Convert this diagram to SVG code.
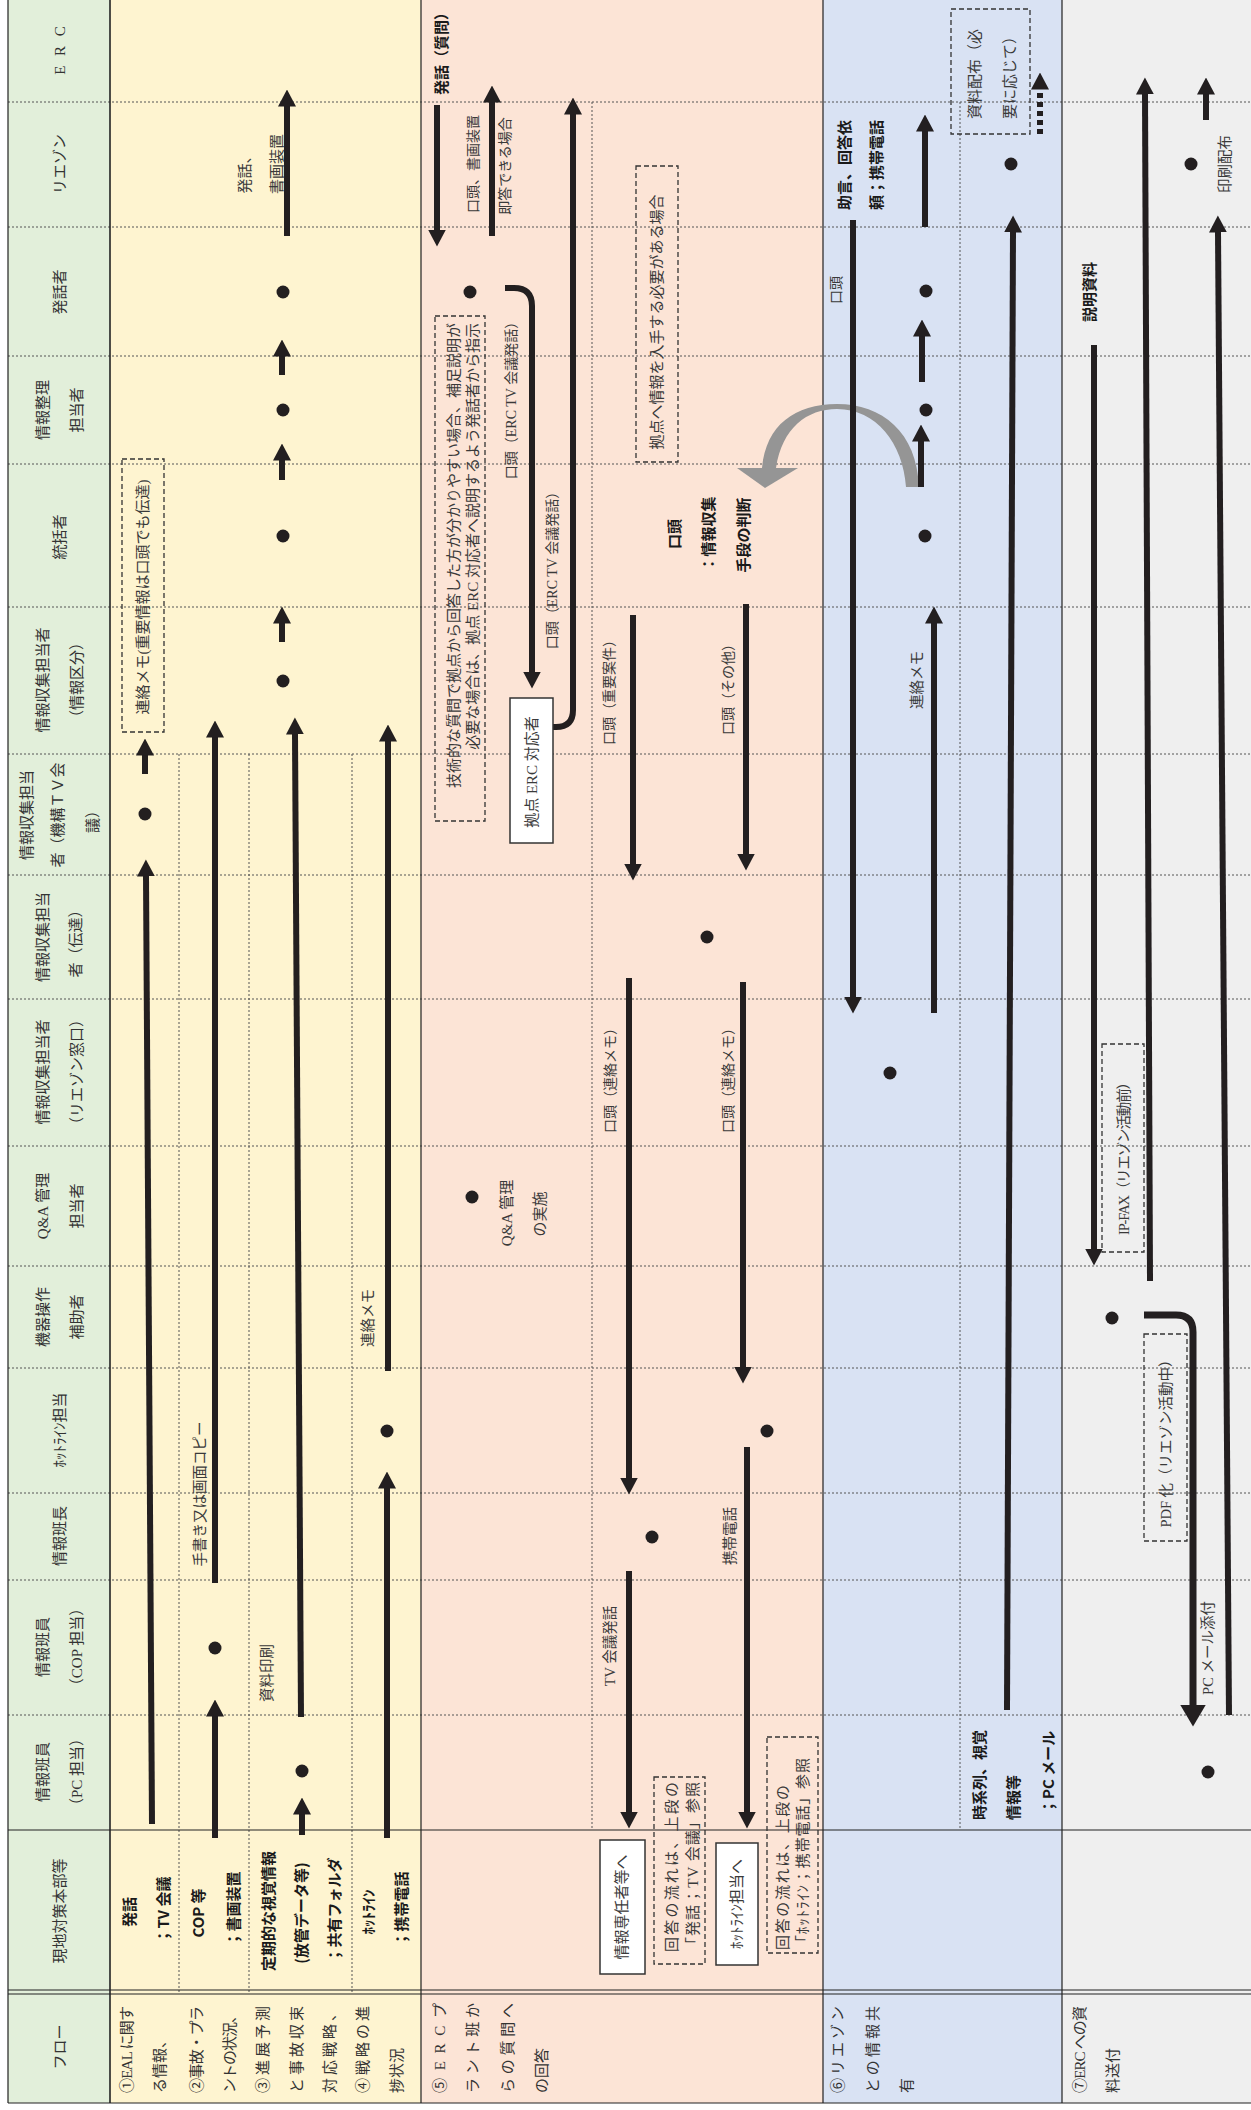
<svg xmlns="http://www.w3.org/2000/svg" width="1251" height="2110" viewBox="0 0 1251 2110">
<defs>
<style>
text{dominant-baseline:central;text-anchor:middle}
.h{font-family:"Liberation Serif","Noto Sans CJK JP",serif;font-size:15px;fill:#333}
.n{font-family:"Liberation Serif","Noto Sans CJK JP",serif;font-size:15px;fill:#3a3a3a}
.l{font-family:"Liberation Serif","Noto Sans CJK JP",serif;font-size:14.5px;fill:#3a3a3a}
.m{font-family:"Liberation Serif","Noto Sans CJK JP",serif;font-size:14px;fill:#3a3a3a}
.b{font-family:"Noto Sans CJK JP","Liberation Sans",sans-serif;font-size:15px;font-weight:bold;fill:#1a1a1a}
.s{text-anchor:start}
.e{text-anchor:end}
.dl{stroke:#555;stroke-width:1;stroke-dasharray:2 2;fill:none}
.sl{stroke:#222;stroke-width:1.2;fill:none}
.a{stroke:#231f20;stroke-width:6;fill:none;marker-end:url(#ah)}
.a2{stroke:#231f20;stroke-width:7;fill:none;marker-end:url(#ah2)}
.dot{fill:#231f20}
.db{fill:none;stroke:#333;stroke-width:1.3;stroke-dasharray:5 3}
.wb{fill:#fff;stroke:#333;stroke-width:1.5}
</style>
<marker id="ah" markerUnits="userSpaceOnUse" markerWidth="17" markerHeight="18" viewBox="0 0 17 18" refX="0.5" refY="9" orient="auto"><path d="M0,0L17,9L0,18z" fill="#231f20"/></marker>
<marker id="ah2" markerUnits="userSpaceOnUse" markerWidth="22" markerHeight="26" viewBox="0 0 22 26" refX="0.5" refY="13" orient="auto"><path d="M0,0L22,13L0,26z" fill="#231f20"/></marker>
</defs>

<g id="background">
<rect x="8" y="0" width="102" height="2103" fill="#e2efda"/>
<rect x="110" y="0" width="311" height="2103" fill="#fef4d0"/>
<rect x="421" y="0" width="402" height="2103" fill="#fce4d6"/>
<rect x="823" y="0" width="239" height="2103" fill="#d9e2f3"/>
<rect x="1062" y="0" width="189" height="2103" fill="#efefef"/>
</g>

<g id="grid">
<path class="dl" d="M8,102H1251M8,227H1251M8,356H1251M8,464H1251M8,607H1251M8,754H1251M8,875H1251M8,999H1251M8,1146H1251M8,1266H1251M8,1368H1251M8,1493H1251M8,1580H1251M8,1715H1251"/>
<path class="dl" d="M179,754V1992M249,754V1992M352,754V1992M592,102V1830M960,102V1830"/>
<path class="sl" d="M8,0V2103M421,0V2103M823,0V2103M1062,0V2103M8,1830H1251M8,1990H1251M8,1994H1251M8,2103H1251"/>
<path d="M110,0V2103" stroke="#222" stroke-width="1.6"/>
</g>

<g id="header">
<g id="h-erc"><text class="h" letter-spacing="3" transform="translate(60 49) rotate(-90)">E R C</text></g>
<g id="h-liaison"><text class="h" transform="translate(60 164) rotate(-90)">リエゾン</text></g>
<g id="h-speaker"><text class="h" transform="translate(60 292) rotate(-90)">発話者</text></g>
<g id="h-seiri"><text class="h" transform="translate(43 410) rotate(-90)">情報整理</text><text class="h" transform="translate(77 410) rotate(-90)">担当者</text></g>
<g id="h-toukatsu"><text class="h" transform="translate(60 537) rotate(-90)">統括者</text></g>
<g id="h-kubun"><text class="h" transform="translate(43 680) rotate(-90)">情報収集担当者</text><text class="h" transform="translate(77 680) rotate(-90)">（情報区分）</text></g>
<g id="h-tv"><text class="h" transform="translate(27 815) rotate(-90)">情報収集担当</text><text class="h" transform="translate(58 815) rotate(-90)">者（機構ＴＶ会</text><text class="h" transform="translate(93 818) rotate(-90)">議）</text></g>
<g id="h-dentatsu"><text class="h" transform="translate(43 937) rotate(-90)">情報収集担当</text><text class="h" transform="translate(76 940) rotate(-90)">者（伝達）</text></g>
<g id="h-madoguchi"><text class="h" transform="translate(43 1072) rotate(-90)">情報収集担当者</text><text class="h" transform="translate(77 1072) rotate(-90)">（リエゾン窓口）</text></g>
<g id="h-qa"><text class="h" transform="translate(43 1206) rotate(-90)">Q&amp;A 管理</text><text class="h" transform="translate(77 1206) rotate(-90)">担当者</text></g>
<g id="h-kiki"><text class="h" transform="translate(43 1317) rotate(-90)">機器操作</text><text class="h" transform="translate(77 1317) rotate(-90)">補助者</text></g>
<g id="h-hotline"><text class="h" transform="translate(60 1430) rotate(-90)">ﾎｯﾄﾗｲﾝ担当</text></g>
<g id="h-hanchou"><text class="h" transform="translate(60 1536) rotate(-90)">情報班長</text></g>
<g id="h-cop"><text class="h" transform="translate(43 1647) rotate(-90)">情報班員</text><text class="h" transform="translate(77 1647) rotate(-90)">（COP 担当）</text></g>
<g id="h-pc"><text class="h" transform="translate(43 1772) rotate(-90)">情報班員</text><text class="h" transform="translate(77 1772) rotate(-90)">（PC 担当）</text></g>
<g id="h-genchi"><text class="h" transform="translate(60 1911) rotate(-90)">現地対策本部等</text></g>
<g id="h-flow"><text class="h" transform="translate(60 2047) rotate(-90)">フロー</text></g>
</g>

<g id="flow-labels">
<text class="h s" textLength="87" lengthAdjust="spacing" transform="translate(127 2093) rotate(-90)">①EAL に関す</text>
<text class="h s" transform="translate(160 2093) rotate(-90)">る情報、</text>
<text class="h s" textLength="87" lengthAdjust="spacing" transform="translate(197 2093) rotate(-90)">②事故・プラ</text>
<text class="h s" textLength="85" lengthAdjust="spacing" transform="translate(230 2093) rotate(-90)">ントの状況、</text>
<text class="h s" textLength="87" lengthAdjust="spacing" transform="translate(263 2093) rotate(-90)">③進展予測</text>
<text class="h s" textLength="87" lengthAdjust="spacing" transform="translate(297 2093) rotate(-90)">と事故収束</text>
<text class="h s" textLength="87" lengthAdjust="spacing" transform="translate(330 2093) rotate(-90)">対応戦略、</text>
<text class="h s" textLength="87" lengthAdjust="spacing" transform="translate(363 2093) rotate(-90)">④戦略の進</text>
<text class="h s" transform="translate(397 2093) rotate(-90)">捗状況</text>
<text class="h s" textLength="90" lengthAdjust="spacing" transform="translate(440 2093) rotate(-90)">⑤ERCプ</text>
<text class="h s" textLength="90" lengthAdjust="spacing" transform="translate(473 2093) rotate(-90)">ラント班か</text>
<text class="h s" textLength="90" lengthAdjust="spacing" transform="translate(508 2093) rotate(-90)">らの質問へ</text>
<text class="h s" transform="translate(542 2093) rotate(-90)">の回答</text>
<text class="h s" textLength="87" lengthAdjust="spacing" transform="translate(838 2093) rotate(-90)">⑥リエゾン</text>
<text class="h s" textLength="87" lengthAdjust="spacing" transform="translate(873 2093) rotate(-90)">との情報共</text>
<text class="h s" transform="translate(907 2093) rotate(-90)">有</text>
<text class="h s" textLength="87" lengthAdjust="spacing" transform="translate(1080 2093) rotate(-90)">⑦ERC への資</text>
<text class="h s" transform="translate(1113 2093) rotate(-90)">料送付</text>
</g>

<g id="genchi-labels">
<text class="b" transform="translate(128 1912) rotate(-90)">発話</text>
<text class="b" transform="translate(162 1910) rotate(-90)">；TV 会議</text>
<text class="b" transform="translate(197 1913) rotate(-90)">COP 等</text>
<text class="b" transform="translate(232 1909) rotate(-90)">；書画装置</text>
<text class="b" transform="translate(267 1911) rotate(-90)">定期的な視覚情報</text>
<text class="b" transform="translate(300 1913) rotate(-90)">(放管データ等)</text>
<text class="b" transform="translate(333 1910) rotate(-90)">；共有フォルダ</text>
<text class="b" transform="translate(367 1912) rotate(-90)">ﾎｯﾄﾗｲﾝ</text>
<text class="b" transform="translate(400 1909) rotate(-90)">；携帯電話</text>
</g>

<g id="connectors">
<path class="a" d="M287,236V106"/>
<path class="a" d="M282,375V356"/>
<path class="a" d="M282,480V460"/>
<path class="a" d="M282,642V623"/>
<path class="a" d="M145,774V755"/>
<path class="a" d="M152,1824L146,876"/>
<path class="a" d="M215,1583V737"/>
<path class="a" d="M215,1838V1716"/>
<path class="a" d="M301,1717L295,734"/>
<path class="a" d="M302,1835V1814"/>
<path class="a" d="M388,1371V741"/>
<path class="a" d="M387,1838V1488"/>
<path class="a" d="M437,105V230"/>
<path class="a" d="M492,236V102"/>
<path class="a" d="M505,288H514Q532,288 532,306V672"/>
<path class="a" d="M553,727H556Q573,727 573,710V114"/>
<path class="a" d="M633,615V864"/>
<path class="a" d="M746,604V854"/>
<path class="a" d="M629,978V1478"/>
<path class="a" d="M743,982V1367"/>
<path class="a" d="M629,1571V1812"/>
<path class="a" d="M747,1447V1812"/>
<path d="M762,468C766,425 795,404 837,404C882,404 917,432 919,487L906,487C903,443 876,409 837,409C807,409 782,428 776,468Z" fill="#959595"/>
<path d="M737,468L798,468L765,488Z" fill="#959595"/>
<path class="a" d="M853,220V997"/>
<path class="a" d="M925,227V131"/>
<path class="a" d="M922,382V336"/>
<path class="a" d="M921,487V441"/>
<path class="a" d="M934,1013V623"/>
<path class="a" d="M1007,1710L1013,232"/>
<path d="M1040,134V89" stroke="#231f20" stroke-width="6" stroke-dasharray="5 4" fill="none" marker-end="url(#ah)"/>
<path class="a" d="M1094,345V1249"/>
<path class="a" d="M1150,1281L1145,94"/>
<path class="a2" d="M1144,1315H1176Q1193,1315 1193,1332V1705"/>
<path class="a" d="M1229,1715L1218,232"/>
<path class="a" d="M1206,120V94"/>
</g>

<g id="dots">
<circle class="dot" cx="283" cy="292" r="6.5"/>
<circle class="dot" cx="283" cy="410" r="6.5"/>
<circle class="dot" cx="283" cy="536" r="6.5"/>
<circle class="dot" cx="283" cy="681" r="6.5"/>
<circle class="dot" cx="145" cy="814" r="6.5"/>
<circle class="dot" cx="215" cy="1648" r="6.5"/>
<circle class="dot" cx="302" cy="1771" r="6.5"/>
<circle class="dot" cx="387" cy="1431" r="6.5"/>
<circle class="dot" cx="470" cy="292" r="6.5"/>
<circle class="dot" cx="707" cy="937" r="6.5"/>
<circle class="dot" cx="472" cy="1197" r="6.5"/>
<circle class="dot" cx="767" cy="1431" r="6.5"/>
<circle class="dot" cx="652" cy="1537" r="6.5"/>
<circle class="dot" cx="926" cy="291" r="6.5"/>
<circle class="dot" cx="926" cy="410" r="6.5"/>
<circle class="dot" cx="925" cy="536" r="6.5"/>
<circle class="dot" cx="890" cy="1073" r="6.5"/>
<circle class="dot" cx="1011" cy="164" r="6.5"/>
<circle class="dot" cx="1191" cy="164" r="6.5"/>
<circle class="dot" cx="1112" cy="1318" r="6.5"/>
<circle class="dot" cx="1208" cy="1772" r="6.5"/>
</g>

<g id="note-renraku">
<rect class="db" x="122" y="459" width="42" height="273"/>
<text class="n" transform="translate(143 597) rotate(-90)">連絡メモ(重要情報は口頭でも伝達)</text>
</g>
<g id="note-gijutsu">
<rect class="db" x="435" y="316" width="50" height="505"/>
<text class="n e" transform="translate(454 323) rotate(-90)">技術的な質問で拠点から回答した方が分かりやすい場合、補足説明が</text>
<text class="n e" transform="translate(473 323) rotate(-90)">必要な場合は、拠点 ERC 対応者へ説明するよう発話者から指示</text>
</g>
<g id="box-kyoten">
<rect class="wb" x="510" y="698" width="43" height="145"/>
<text class="n" transform="translate(532 772) rotate(-90)">拠点 ERC 対応者</text>
</g>
<g id="note-kyoten">
<rect class="db" x="636" y="166" width="42" height="296"/>
<text class="n" transform="translate(657 322) rotate(-90)">拠点へ情報を入手する必要がある場合</text>
</g>
<g id="box-senin">
<rect class="wb" x="600" y="1840" width="45" height="134"/>
<text class="n" transform="translate(622 1907) rotate(-90)">情報専任者等へ</text>
</g>
<g id="note-kaitou1">
<rect class="db" x="654" y="1777" width="51" height="187"/>
<text class="n s" textLength="170" lengthAdjust="spacing" transform="translate(672 1952) rotate(-90)">回答の流れは、上段の</text>
<text class="n s" textLength="170" lengthAdjust="spacing" transform="translate(693 1952) rotate(-90)">「発話；TV 会議」参照</text>
</g>
<g id="box-hotline">
<rect class="wb" x="716" y="1843" width="42" height="122"/>
<text class="n" transform="translate(737 1904) rotate(-90)">ﾎｯﾄﾗｲﾝ担当へ</text>
</g>
<g id="note-kaitou2">
<rect class="db" x="767" y="1737" width="51" height="216"/>
<text class="n s" textLength="165" lengthAdjust="spacing" transform="translate(783 1950) rotate(-90)">回答の流れは、上段の</text>
<text class="n s" textLength="192" lengthAdjust="spacing" transform="translate(803 1950) rotate(-90)">「ﾎｯﾄﾗｲﾝ；携帯電話」参照</text>
</g>
<g id="note-shiryou">
<rect class="db" x="951" y="9" width="79" height="125"/>
<text class="n s" transform="translate(975 119) rotate(-90)">資料配布（必</text>
<text class="n s" transform="translate(1010 119) rotate(-90)">要に応じて）</text>
</g>
<g id="note-ipfax">
<rect class="db" x="1102" y="1044" width="42" height="208"/>
<text class="l" textLength="160" lengthAdjust="spacing" transform="translate(1124 1155) rotate(-90)">IP-FAX（リエゾン活動前）</text>
</g>
<g id="note-pdf">
<rect class="db" x="1144" y="1334" width="43" height="207"/>
<text class="l" transform="translate(1166 1440) rotate(-90)">PDF 化（リエゾン活動中）</text>
</g>

<g id="edge-labels">
<text class="n" transform="translate(245 171) rotate(-90)">発話、</text>
<text class="n" transform="translate(277 164) rotate(-90)">書画装置</text>
<text class="l" transform="translate(200 1494) rotate(-90)">手書き又は画面コピー</text>
<text class="l" transform="translate(267 1673) rotate(-90)">資料印刷</text>
<text class="l" transform="translate(368 1318) rotate(-90)">連絡メモ</text>
<text class="b" transform="translate(440 50) rotate(-90)">発話（質問）</text>
<text class="m" transform="translate(473 164) rotate(-90)">口頭、書画装置</text>
<text class="m" transform="translate(505 166) rotate(-90)">即答できる場合</text>
<text class="m" transform="translate(511 397) rotate(-90)">口頭（ERC TV 会議発話）</text>
<text class="m" transform="translate(552 567) rotate(-90)">口頭（ERC TV 会議発話）</text>
<text class="b" transform="translate(673 534) rotate(-90)">口頭</text>
<text class="b" transform="translate(707 534) rotate(-90)">：情報収集</text>
<text class="b" transform="translate(742 535) rotate(-90)">手段の判断</text>
<text class="m" transform="translate(609 689) rotate(-90)">口頭（重要案件）</text>
<text class="m" transform="translate(728 686) rotate(-90)">口頭（その他）</text>
<text class="m" transform="translate(610 1077) rotate(-90)">口頭（連絡メモ）</text>
<text class="m" transform="translate(728 1077) rotate(-90)">口頭（連絡メモ）</text>
<text class="n" transform="translate(507 1213) rotate(-90)">Q&amp;A 管理</text>
<text class="n" transform="translate(540 1214) rotate(-90)">の実施</text>
<text class="l" transform="translate(610 1646) rotate(-90)">TV 会議発話</text>
<text class="l" transform="translate(730 1536) rotate(-90)">携帯電話</text>
<text class="b" transform="translate(843 165) rotate(-90)">助言、回答依</text>
<text class="b" transform="translate(875 165) rotate(-90)">頼；携帯電話</text>
<text class="m" transform="translate(836 290) rotate(-90)">口頭</text>
<text class="l" transform="translate(917 680) rotate(-90)">連絡メモ</text>
<text class="b s" transform="translate(978 1820) rotate(-90)">時系列、視覚</text>
<text class="b s" transform="translate(1012 1820) rotate(-90)">情報等</text>
<text class="b s" transform="translate(1047 1814) rotate(-90)">；PC メール</text>
<text class="b" transform="translate(1088 292) rotate(-90)">説明資料</text>
<text class="l" transform="translate(1225 164) rotate(-90)">印刷配布</text>
<text class="l" transform="translate(1208 1648) rotate(-90)">PC メール添付</text>
</g>
</svg>
